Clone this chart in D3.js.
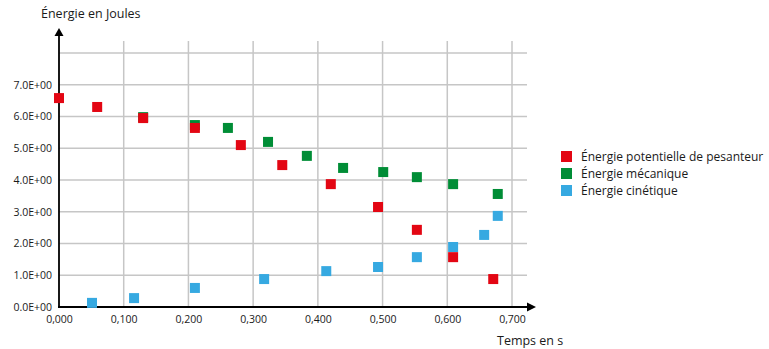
<!DOCTYPE html>
<html>
<head>
<meta charset="utf-8">
<script src="https://cdn.jsdelivr.net/npm/d3@7"></script>
<style>
  body { margin: 0; background: #fff; }
  text { font-family: "Open Sans", "Noto Sans", sans-serif; fill: #1a1a1a; }
</style>
</head>
<body>
<div id="chart"></div>
<script>
// values (time in s, energy in J)
var potT = [0.000, 0.059, 0.130, 0.210, 0.281, 0.345, 0.420, 0.493, 0.553, 0.609, 0.671]
var potE = [6.58, 6.30, 5.95, 5.64, 5.10, 4.47, 3.87, 3.15, 2.43, 1.57, 0.88]

var mecT = [0.130, 0.210, 0.261, 0.323, 0.383, 0.439, 0.501, 0.553, 0.609, 0.678]
var mecE = [5.98, 5.73, 5.64, 5.20, 4.76, 4.38, 4.25, 4.09, 3.87, 3.56]

var cinT = [0.051, 0.116, 0.210, 0.317, 0.413, 0.493, 0.553, 0.609, 0.657, 0.678]
var cinE = [0.13, 0.28, 0.60, 0.88, 1.13, 1.26, 1.57, 1.89, 2.27, 2.87]

var xTicks = [0, 0.1, 0.2, 0.3, 0.4, 0.5, 0.6, 0.7]
var yTicks = [0, 1, 2, 3, 4, 5, 6, 7, 8]
var yLabels = ["0.0E+00", "1.0E+00", "2.0E+00", "3.0E+00", "4.0E+00", "5.0E+00", "6.0E+00", "7.0E+00", ""]

var seriesNames = ["Énergie potentielle de pesanteur", "Énergie mécanique", "Énergie cinétique"]
var colors = ["#e30613", "#008d36", "#36a9e1"]

var width = 769, height = 349
var margin = {top: 53, left: 59, bottom: 42}

var svg = d3.select("#chart").append("svg")
  .attr("width", width)
  .attr("height", height)

var x = d3.scaleLinear().domain([0, 0.7]).range([margin.left, 512])
var y = d3.scaleLinear().domain([0, 8]).range([height - margin.bottom, margin.top])

// grid
svg.append("g")
  .selectAll("line")
  .data(yTicks.slice(1))
  .enter().append("line")
    .attr("x1", x(0)).attr("x2", 527)
    .attr("y1", d => y(d)).attr("y2", d => y(d))
    .attr("stroke", "#c6c6c6").attr("stroke-width", 1.5)

svg.append("g")
  .selectAll("line")
  .data(xTicks.slice(1))
  .enter().append("line")
    .attr("x1", d => x(d)).attr("x2", d => x(d))
    .attr("y1", 41).attr("y2", y(0))
    .attr("stroke", "#c6c6c6").attr("stroke-width", 1.5)

// axes
var yAxis = d3.axisLeft(y).tickValues(yTicks).tickSize(0).tickPadding(7)
  .tickFormat((d, i) => yLabels[i])
var gy = svg.append("g").attr("transform", "translate(" + x(0) + ",0)").call(yAxis)
gy.select(".domain").remove()
gy.selectAll("text").style("font-size", "10.5px")

var xAxis = d3.axisBottom(x).tickValues(xTicks).tickSize(0).tickPadding(9)
  .tickFormat(d => d3.format(".3f")(d).replace(".", ","))
var gx = svg.append("g").attr("transform", "translate(0," + y(0) + ")").call(xAxis)
gx.select(".domain").remove()
gx.selectAll("text").style("font-size", "10.5px")

svg.append("line")
  .attr("x1", x(0)).attr("x2", x(0))
  .attr("y1", y(0) + 1).attr("y2", 34)
  .attr("stroke", "#000").attr("stroke-width", 1.8)
svg.append("path")
  .attr("d", "M" + (x(0) - 4.5) + ",36 L" + x(0) + ",28 L" + (x(0) + 4.5) + ",36 Z")
  .attr("fill", "#000")

svg.append("line")
  .attr("x1", x(0) - 1).attr("x2", 530)
  .attr("y1", y(0)).attr("y2", y(0))
  .attr("stroke", "#000").attr("stroke-width", 1.8)
svg.append("path")
  .attr("d", "M527," + (y(0) - 4.5) + " L536," + y(0) + " L527," + (y(0) + 4.5) + " Z")
  .attr("fill", "#000")

// axis titles
svg.append("text")
  .attr("x", 41).attr("y", 18)
  .style("font-size", "12.5px")
  .text("Énergie en Joules")

svg.append("text")
  .attr("x", 497).attr("y", 345)
  .style("font-size", "12.5px")
  .text("Temps en s")

// points: mécanique first, potentielle then cinétique on top
var sq = 10
function drawSeries(ts, es, color) {
  svg.append("g")
    .selectAll("rect")
    .data(ts.map((t, i) => ({t: t, e: es[i]})))
    .enter().append("rect")
      .attr("x", d => x(d.t) - sq / 2)
      .attr("y", d => y(d.e) - sq / 2)
      .attr("width", sq).attr("height", sq)
      .attr("fill", color)
}
drawSeries(mecT, mecE, colors[1])
drawSeries(potT, potE, colors[0])
drawSeries(cinT, cinE, colors[2])

// legend
var legend = svg.append("g").attr("transform", "translate(561,151)")
seriesNames.forEach(function (name, i) {
  var row = legend.append("g").attr("transform", "translate(0," + (i * 17) + ")")
  row.append("rect").attr("width", 11).attr("height", 11).attr("fill", colors[i])
  row.append("text").attr("x", 20).attr("y", 10)
    .style("font-size", "12px")
    .text(name)
})
</script>
</body>
</html>
